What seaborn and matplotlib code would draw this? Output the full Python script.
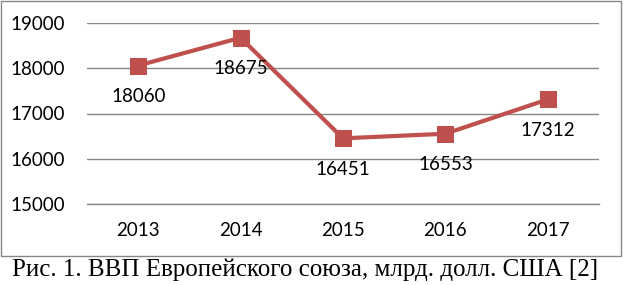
import matplotlib
matplotlib.use("Agg")
import matplotlib.pyplot as plt
import seaborn as sns
import numpy as np
from matplotlib.patches import Rectangle

years = ["2013", "2014", "2015", "2016", "2017"]
gdp = [18060, 18675, 16451, 16553, 17312]
yticks = [15000, 16000, 17000, 18000, 19000]
caption = "Рис. 1. ВВП Европейского союза, млрд. долл. США [2]"

sns.set_theme(style="white")
plt.rcParams["font.family"] = ["Lato", "DejaVu Sans"]

W, H = 623, 285
fig = plt.figure(figsize=(W / 100, H / 100), dpi=100)
ax = fig.add_axes([87 / W, 81 / H, (599 - 87) / W, (204 - 23) / H])

red = "#C0504D"
sns.lineplot(x=years, y=gdp, ax=ax, color=red, linewidth=3, marker="s",
             markersize=11, markeredgecolor=red, markerfacecolor=red, sort=False)

ax.set_xlim(-0.5, 4.5)
ax.set_ylim(15000, 19000)
ax.set_yticks(yticks)
ax.set_yticklabels([str(v) for v in yticks])
ax.set_xticks(range(len(years)))
ax.set_xticklabels(years)
ax.set_xticks(np.arange(-0.5, 5, 1.0), minor=True)
ax.tick_params(axis="x", which="major", length=0, pad=13, labelsize=13.5, colors="black")
ax.tick_params(axis="x", which="minor", length=5, width=1, color="#868686", direction="out")
ax.tick_params(axis="y", length=0, pad=16, labelsize=13.5, colors="black")
ax.set_xlabel("")
ax.set_ylabel("")

ax.grid(axis="y", color="#868686", linewidth=1)
ax.set_axisbelow(True)
for s in ["left", "right", "top"]:
    ax.spines[s].set_visible(False)
ax.spines["bottom"].set_color("#868686")
ax.spines["bottom"].set_linewidth(1)

for i, v in enumerate(gdp):
    ax.annotate(str(v), xy=(i, v), xytext=(0, -22.5), textcoords="offset points",
                ha="center", va="center", fontsize=13.5, color="black")

fig.patches.append(Rectangle((0.5 / W, (H - 256) / H), 620 / W, 255 / H,
                             transform=fig.transFigure, fill=False,
                             edgecolor="#868686", linewidth=1))

fig.text(305 / W, (H - 270) / H, caption, ha="center", va="center",
         fontsize=18, family=["Liberation Serif", "DejaVu Serif"], color="black")

fig.savefig("out.png", dpi=100)
